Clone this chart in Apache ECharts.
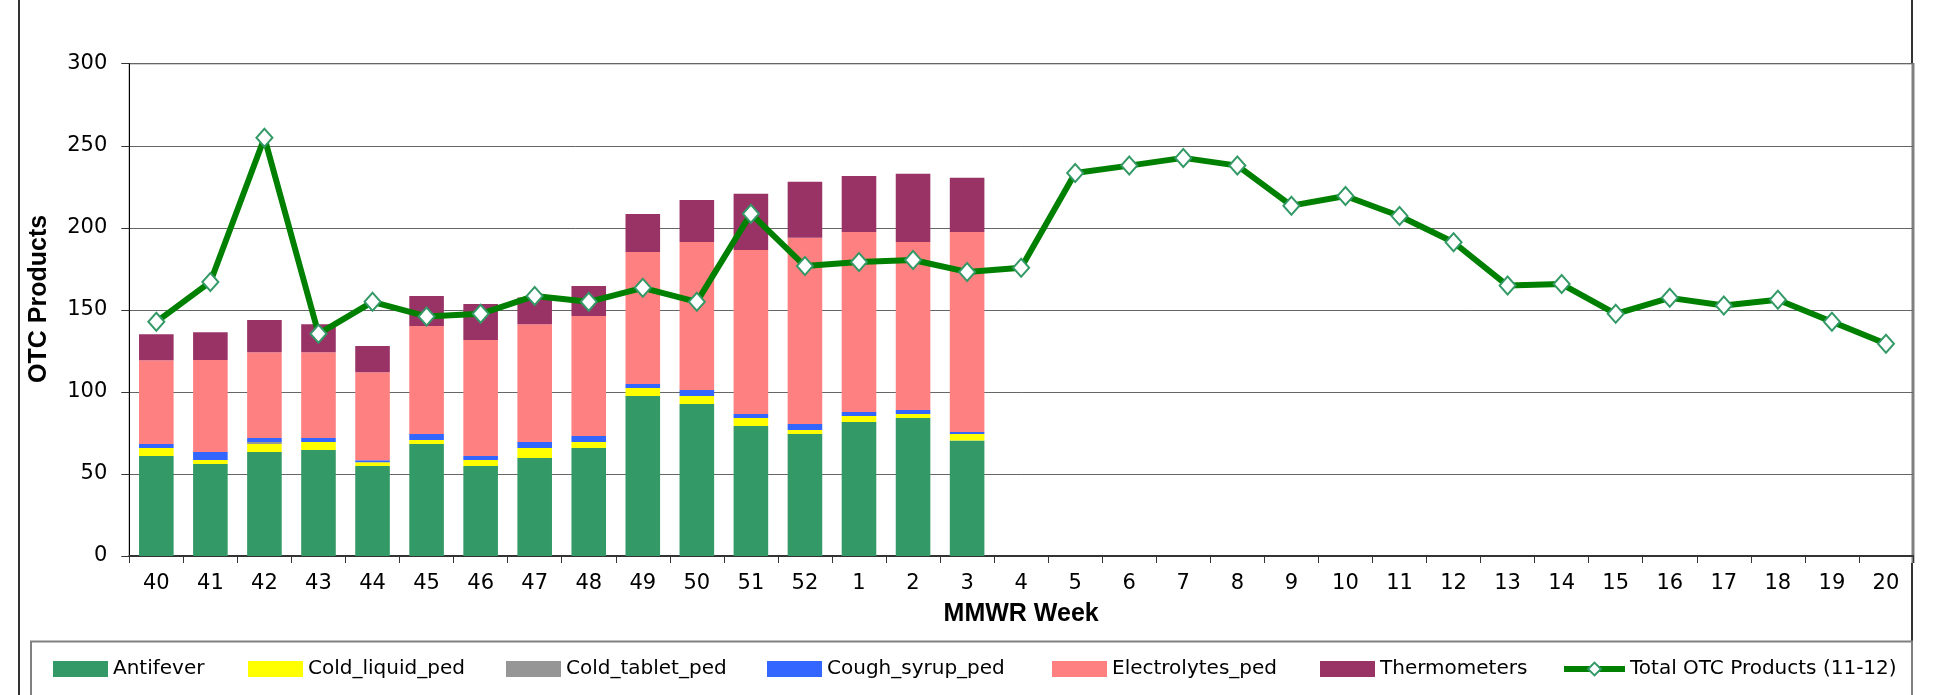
<!DOCTYPE html>
<html><head><meta charset="utf-8">
<script src="https://cdn.jsdelivr.net/npm/echarts@6/dist/echarts.min.js"></script>
<style>html,body{margin:0;padding:0;background:#fff}#c{width:1933px;height:695px}</style>
</head><body><div id="c"></div>
<script>
const weeks = ['40','41','42','43','44','45','46','47','48','49','50','51','52','1','2','3','4','5','6','7','8','9','10','11','12','13','14','15','16','17','18','19','20'];
const antifever    = [60.9, 56.1, 63.4, 64.6, 54.8, 68.3, 54.8, 59.7, 65.8, 97.5, 92.6, 79.2, 74.3, 81.7, 84.1, 70.4];
const coldLiquid   = [4.9, 2.4, 4.9, 4.9, 2.4, 2.4, 3.7, 6.1, 3.7, 4.9, 4.9, 4.9, 2.5, 3.6, 2.4, 3.9];
const coldTablet   = [0, 0, 1.2, 0, 0, 0, 0, 0, 0, 0, 0, 0, 0, 0, 0, 0];
const coughSyrup   = [2.4, 4.9, 2.4, 2.4, 1.2, 3.6, 2.4, 3.7, 3.6, 2.4, 3.7, 2.4, 3.6, 2.5, 2.5, 1.2];
const electrolytes = [51.1, 56.0, 52.3, 52.3, 53.5, 65.9, 70.7, 71.8, 73.2, 80.5, 90.2, 100.0, 113.5, 109.7, 102.4, 122.0];
const thermometers = [15.8, 16.9, 19.6, 17.1, 16.0, 18.3, 21.9, 16.3, 18.3, 23.1, 25.5, 34.3, 34.1, 34.1, 41.6, 33.0];
const totalOTC     = [142.7, 167.0, 254.9, 135.4, 154.9, 146.0, 147.6, 158.5, 154.9, 163.4, 154.9, 208.6, 176.7, 179.2, 180.4, 173.1, 175.6, 233.4, 237.9, 242.6, 237.9, 213.5, 219.4, 207.2, 191.2, 164.8, 165.7, 147.6, 157.3, 152.6, 156.2, 142.7, 129.3];
const yTicks = [0, 50, 100, 150, 200, 250, 300];

const FONT = '"Liberation Sans", Arial, sans-serif';
const WIDE = '"DejaVu Sans", sans-serif';
const barDefs = [
  {name: 'Antifever', data: antifever, color: '#339966'},
  {name: 'Cold_liquid_ped', data: coldLiquid, color: '#FFFF00'},
  {name: 'Cold_tablet_ped', data: coldTablet, color: '#969696'},
  {name: 'Cough_syrup_ped', data: coughSyrup, color: '#3366FF'},
  {name: 'Electrolytes_ped', data: electrolytes, color: '#FF8080'},
  {name: 'Thermometers', data: thermometers, color: '#993366'}
];
const lineName = 'Total OTC Products (11-12)';
const legendPos = [53, 248, 506, 767, 1052, 1320, 1561];

const series = barDefs.map(d => ({
  name: d.name, type: 'bar', stack: 'otc', data: d.data,
  barCategoryGap: '36%', itemStyle: {color: d.color}, emphasis: {disabled: true}
}));
series.push({
  name: lineName, type: 'line', data: totalOTC, z: 5,
  symbol: 'diamond', symbolSize: [16, 18], showAllSymbol: true,
  lineStyle: {color: '#008000', width: 6},
  itemStyle: {color: '#ffffff', borderColor: '#339966', borderWidth: 2},
  emphasis: {disabled: true}
});

const legends = barDefs.map((d, i) => ({
  data: [d.name], left: legendPos[i], top: 659, padding: 0,
  itemWidth: 55, itemHeight: 16, icon: 'rect', selectedMode: false,
  textStyle: {fontSize: 20, color: '#000', fontFamily: WIDE}
}));
legends.push({
  data: [lineName], left: legendPos[6], top: 659, padding: 0,
  itemWidth: 61, itemHeight: 16, selectedMode: false,
  lineStyle: {width: 6, color: '#008000'},
  itemStyle: {color: '#ffffff', borderColor: '#339966', borderWidth: 2},
  textStyle: {fontSize: 20, color: '#000', fontFamily: WIDE}
});

const option = {
  animation: false,
  backgroundColor: '#fff',
  grid: {left: 129.3, right: 20, top: 63.7, bottom: 139, show: true, borderColor: '#000', borderWidth: 1},
  legend: legends,
  xAxis: {
    type: 'category', data: weeks, boundaryGap: true,
    name: 'MMWR Week', nameLocation: 'middle', nameGap: 46,
    nameTextStyle: {fontSize: 25, fontWeight: 'bold', color: '#000', fontFamily: FONT},
    axisLine: {lineStyle: {color: '#333', width: 2}},
    axisTick: {show: true, interval: 0, length: 7, lineStyle: {color: '#333'}},
    axisLabel: {interval: 0, fontSize: 21, color: '#000', margin: 17, fontFamily: WIDE}
  },
  yAxis: {
    type: 'value', min: yTicks[0], max: yTicks[yTicks.length - 1], interval: 50,
    name: 'OTC Products', nameLocation: 'middle', nameGap: 78,
    nameTextStyle: {fontSize: 25, fontWeight: 'bold', color: '#000', fontFamily: FONT, padding: [0, 0, 0, 22]},
    axisLine: {show: true, lineStyle: {color: '#000', width: 1}},
    axisTick: {show: true, length: 8, lineStyle: {color: '#333'}},
    axisLabel: {fontSize: 21, color: '#000', margin: 22, fontFamily: WIDE},
    splitLine: {show: true, lineStyle: {color: '#666', width: 1}}
  },
  graphic: [
    {type: 'line', shape: {x1: 19, y1: 0, x2: 19, y2: 695}, style: {stroke: '#333', lineWidth: 2}, silent: true},
    {type: 'line', shape: {x1: 1912, y1: 0, x2: 1912, y2: 64}, style: {stroke: '#333', lineWidth: 2}, silent: true},
    {type: 'line', shape: {x1: 1912, y1: 563, x2: 1912, y2: 695}, style: {stroke: '#333', lineWidth: 2}, silent: true},
    {type: 'line', shape: {x1: 1913, y1: 63, x2: 1913, y2: 563}, style: {stroke: '#808080', lineWidth: 3}, silent: true},
    {type: 'rect', shape: {x: 31, y: 641.5, width: 1881, height: 80}, style: {fill: 'none', stroke: '#808080', lineWidth: 2}, silent: true}
  ],
  series: series
};
const chart = echarts.init(document.getElementById('c'));
chart.setOption(option);
</script></body></html>
